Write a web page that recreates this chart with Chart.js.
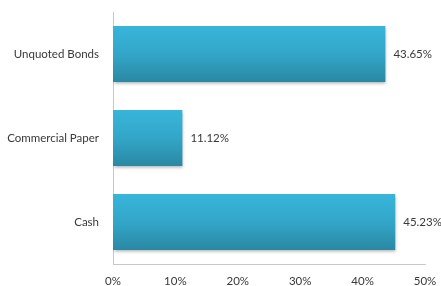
<!DOCTYPE html>
<html>
<head>
<meta charset="utf-8">
<script src="https://cdn.jsdelivr.net/npm/chart.js@4/dist/chart.umd.min.js"></script>
<style>
  html, body { margin: 0; padding: 0; background: #fff; }
  #wrap { width: 441px; height: 286px; }
</style>
</head>
<body>
<div id="wrap"><canvas id="chart"></canvas></div>
<script>
// Valeurs
const categories = ["Unquoted Bonds", "Commercial Paper", "Cash"];
const shares = [43.65, 11.12, 45.23];
const shareLabels = ["43.65%", "11.12%", "45.23%"];

const BAR_RATIO = 0.667;
const TEXT_COLOR = "#383838";
const FONT = { family: "Lato", size: 11.5 };

// Dégradé vertical propre à chaque barre (clair en haut, foncé en bas)
function barGradient(context) {
    const chart = context.chart;
    const y = chart.scales.y;
    if (!chart.chartArea || !y) return "#33a8cc";
    const center = y.getPixelForValue(context.dataIndex);
    const band = (chart.chartArea.bottom - chart.chartArea.top) / categories.length;
    const half = (band * BAR_RATIO) / 2;
    const g = chart.ctx.createLinearGradient(0, center - half, 0, center + half);
    g.addColorStop(0, "#38b5da");
    g.addColorStop(0.5, "#33a6c8");
    g.addColorStop(1, "#2a88a3");
    return g;
}

// Petite ombre portée sous les barres
const barShadow = {
    id: "barShadow",
    beforeDatasetsDraw(chart) {
        const ctx = chart.ctx;
        ctx.save();
        ctx.shadowColor = "rgba(0,0,0,0.3)";
        ctx.shadowBlur = 3;
        ctx.shadowOffsetX = 1;
        ctx.shadowOffsetY = 2;
    },
    afterDatasetsDraw(chart) {
        chart.ctx.restore();
    },
};

// Étiquettes de valeur à droite de chaque barre
const valueLabels = {
    id: "valueLabels",
    afterDatasetsDraw(chart) {
        const ctx = chart.ctx;
        const meta = chart.getDatasetMeta(0);
        ctx.save();
        ctx.font = `${FONT.size}px ${FONT.family}`;
        ctx.fillStyle = TEXT_COLOR;
        ctx.textAlign = "left";
        ctx.textBaseline = "middle";
        meta.data.forEach((bar, i) => {
            ctx.fillText(shareLabels[i], bar.x + 8, bar.y);
        });
        ctx.restore();
    },
};

new Chart(document.getElementById("chart"), {
    type: "bar",
    data: {
        labels: categories,
        datasets: [
            {
                data: shares,
                backgroundColor: barGradient,
                borderWidth: 0,
                barPercentage: BAR_RATIO,
                categoryPercentage: 1,
            },
        ],
    },
    options: {
        indexAxis: "y",
        responsive: true,
        maintainAspectRatio: false,
        animation: false,
        devicePixelRatio: 1,
        layout: { padding: { top: 12, right: 16, left: 0, bottom: 0 } },
        plugins: {
            legend: { display: false },
            tooltip: { enabled: false },
        },
        scales: {
            x: {
                min: 0,
                max: 50,
                ticks: {
                    stepSize: 10,
                    padding: 10,
                    color: TEXT_COLOR,
                    font: FONT,
                    callback: (v) => v + "%",
                },
                grid: { display: false, drawTicks: false },
                border: { display: true, color: "#c8c8c8", width: 1 },
                afterFit: (scale) => {
                    scale.height = 22;
                    scale.paddingLeft = 0;
                    scale.paddingRight = 0;
                },
            },
            y: {
                ticks: { padding: 14, color: TEXT_COLOR, font: FONT },
                grid: { display: false, drawTicks: false },
                border: { display: true, color: "#c8c8c8", width: 1 },
                afterFit: (scale) => {
                    scale.width = 113;
                    scale.paddingTop = 0;
                    scale.paddingBottom = 0;
                },
            },
        },
    },
    plugins: [barShadow, valueLabels],
});
</script>
</body>
</html>
